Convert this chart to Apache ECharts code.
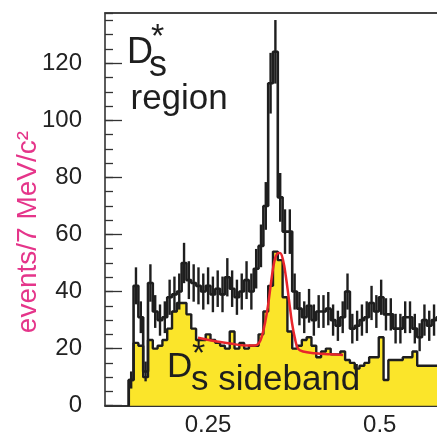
<!DOCTYPE html>
<html>
<head>
<meta charset="utf-8">
<script src="https://cdn.jsdelivr.net/npm/echarts@6.0.0/dist/echarts.min.js"></script>
<style>
html,body{margin:0;padding:0;background:#fff;}
#chart{width:437px;height:439px;}
</style>
</head>
<body>
<div id="chart"></div>
<script>
// ---- data ----
const binStart = 0.1346;   // lower edge of first bin
const binWidth = 0.007;    // 7 MeV bins

// D_s* region (black histogram with error bars), one value per bin
const regionCounts = [
  9, 42, 31, 12, 43, 33, 30, 31, 38, 39,
  40, 50, 44, 43, 42, 40, 42, 39, 41, 39,
  45, 41, 38, 40, 44, 40, 48, 56, 70, 113,
  124, 73, 61, 61, 40, 34, 31, 35, 30, 33,
  33, 34, 30, 28, 31, 40, 27, 28, 30, 31,
  36, 33, 38, 32, 32, 27, 27, 31, 31, 27,
  24, 30, 28, 30, 31
];

// D_s* sideband (yellow filled histogram)
const sidebandCounts = [
  9, 22, 21, 10, 23, 20, 21, 23, 27, 33,
  36, 36, 32, 27, 23, 23, 25, 23, 22, 21,
  20, 26, 20, 22, 20, 21, 21, 25, 33, 42,
  54, 51, 38, 26, 20, 21, 23, 24, 21, 17,
  19, 20, 18, 18, 19, 16, 15, 13, 14, 15,
  17, 17, 24, 9, 16, 16, 16, 17, 17, 19,
  14, 14, 14, 14, 14
];

// red fit curve on the sideband
const fitX = [0.2354, 0.2602, 0.2820, 0.3038, 0.3184, 0.3242, 0.3286, 0.3330, 0.3373, 0.3417,
              0.3461, 0.3504, 0.3548, 0.3592, 0.3635, 0.3679, 0.3723, 0.3766, 0.3810, 0.3883,
              0.4058, 0.4276, 0.4465];
const fitY = [23.8, 22.6, 21.8, 21.1, 21.1, 22.0, 24.5, 29.0, 35.0, 43.0,
              50.0, 53.2, 53.5, 51.0, 45.0, 37.0, 29.0, 23.5, 20.0, 19.0,
              18.4, 18.0, 17.8];

const xTickValues = [0.25, 0.5];
const xTickLabels = ['0.25', '0.5'];
const xMin = 0.1, xMax = 0.5834;
const yMin = 0, yMax = 137.6;
const yTitle = 'events/7 MeV/c²';

// ---- build library inputs ----
function stepData(counts) {
  const pts = [[binStart, 0]];
  counts.forEach((c, i) => pts.push([binStart + i * binWidth, c]));
  pts.push([binStart + counts.length * binWidth, counts[counts.length - 1]]);
  return pts;
}
const errData = regionCounts.map((c, i) => [binStart + (i + 0.5) * binWidth, c, Math.sqrt(c)]);
const fitData = fitX.map((x, i) => [x, fitY[i]]);

const FONT = 'Liberation Sans, Arial, Helvetica, sans-serif';
const chart = echarts.init(document.getElementById('chart'), null, {renderer: 'canvas'});

chart.setOption({
  animation: false,
  backgroundColor: '#ffffff',
  grid: {left: 105, right: 0, top: 13, bottom: 33.3},
  xAxis: [{
    type: 'value', min: xMin, max: xMax, interval: 0.05, position: 'bottom',
    axisLine: {show: true, onZero: false, lineStyle: {color: '#333', width: 1.8}},
    axisTick: {show: false},
    splitLine: {show: false},
    axisLabel: {
      show: true, margin: 8, fontSize: 24, color: '#222', fontFamily: FONT,
      showMinLabel: false, showMaxLabel: false,
      formatter: function (v) {
        for (let i = 0; i < xTickValues.length; i++) {
          if (Math.abs(v - xTickValues[i]) < 1e-6) return xTickLabels[i];
        }
        return '';
      }
    }
  }, {
    type: 'value', min: xMin, max: xMax, position: 'top',
    axisLine: {show: true, onZero: false, lineStyle: {color: '#444', width: 1.8}},
    axisTick: {show: false}, axisLabel: {show: false}, splitLine: {show: false}
  }],
  yAxis: [{
    type: 'value', min: yMin, max: yMax, interval: 20, position: 'left',
    axisLine: {show: true, onZero: false, lineStyle: {color: '#333', width: 1.6}},
    axisTick: {show: true, inside: true, length: 17, lineStyle: {color: '#333', width: 1.3}},
    axisLabel: {show: true, margin: 23, fontSize: 24, color: '#222', fontFamily: FONT, showMaxLabel: false},
    splitLine: {show: false}
  }, {
    type: 'value', min: yMin, max: yMax, interval: 5, position: 'left',
    axisLine: {show: false},
    axisTick: {show: true, inside: true, length: 8, lineStyle: {color: '#333', width: 1.3}},
    axisLabel: {show: false}, splitLine: {show: false}
  }],
  series: [{
    name: 'sideband', type: 'line', step: 'end', data: stepData(sidebandCounts),
    symbol: 'none', z: 2,
    lineStyle: {color: '#1e1e1e', width: 2.4},
    areaStyle: {color: '#fbe52a', opacity: 1}
  }, {
    name: 'region', type: 'line', step: 'end', data: stepData(regionCounts),
    symbol: 'none', z: 3,
    lineStyle: {color: '#1e1e1e', width: 2.6}
  }, {
    name: 'errors', type: 'custom', data: errData, z: 4,
    renderItem: function (params, api) {
      const x = api.value(0), v = api.value(1), e = api.value(2);
      const p1 = api.coord([x, v - e]);
      const p2 = api.coord([x, v + e]);
      return {type: 'line', shape: {x1: p1[0], y1: p1[1], x2: p2[0], y2: p2[1]},
              style: {stroke: '#1e1e1e', lineWidth: 2.4}};
    }
  }, {
    name: 'fit', type: 'line', data: fitData, smooth: 0.4, symbol: 'none', z: 5,
    lineStyle: {color: '#e8262c', width: 2.5}
  }],
  graphic: [
    {type: 'text', x: 28, y: 232, rotation: Math.PI / 2,
     style: {text: yTitle, fontSize: 28, fill: '#e5358a', fontFamily: FONT, align: 'center', verticalAlign: 'middle'}},
    // D_s* region label
    {type: 'text', x: 127, y: 53.5, z: 10, style: {text: 'D', fontSize: 36, fill: '#1e1e1e', fontFamily: FONT, align: 'left', verticalAlign: 'middle'}},
    {type: 'text', x: 151, y: 38, z: 10, style: {text: '*', fontSize: 34, fill: '#1e1e1e', fontFamily: FONT, align: 'left', verticalAlign: 'middle'}},
    {type: 'text', x: 149, y: 66, z: 10, style: {text: 's', fontSize: 36, fill: '#1e1e1e', fontFamily: FONT, align: 'left', verticalAlign: 'middle'}},
    {type: 'text', x: 130.5, y: 99.5, z: 10, style: {text: 'region', fontSize: 35, fill: '#1e1e1e', fontFamily: FONT, align: 'left', verticalAlign: 'middle'}},
    // D_s* sideband label
    {type: 'text', x: 167, y: 367.5, z: 10, style: {text: 'D', fontSize: 35, fill: '#1e1e1e', fontFamily: FONT, align: 'left', verticalAlign: 'middle'}},
    {type: 'text', x: 192, y: 355, z: 10, style: {text: '*', fontSize: 34, fill: '#1e1e1e', fontFamily: FONT, align: 'left', verticalAlign: 'middle'}},
    {type: 'text', x: 191, y: 380, z: 10, style: {text: 's sideband', fontSize: 35, fill: '#1e1e1e', fontFamily: FONT, align: 'left', verticalAlign: 'middle'}}
  ]
});
</script>
</body>
</html>
